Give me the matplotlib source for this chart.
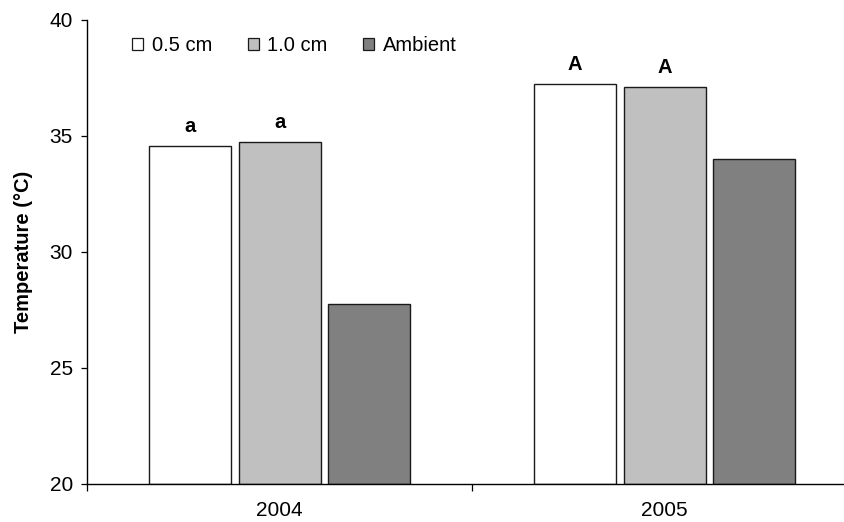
import matplotlib
matplotlib.use("Agg")
import matplotlib.pyplot as plt
from matplotlib.patches import Patch
import numpy as np

plt.rcParams["font.family"] = ["Liberation Sans", "DejaVu Sans"]

# ── Data ─────────────────────────────────────────────────────────────────────
years = ["2004", "2005"]
series = ["0.5 cm", "1.0 cm", "Ambient"]
temp_05 = [34.58, 37.24]
temp_10 = [34.75, 37.11]
temp_amb = [27.75, 34.0]
letters_05 = ["a", "A"]
letters_10 = ["a", "A"]

colors = ["#ffffff", "#c0c0c0", "#808080"]
edge = "#1a1a1a"

fig = plt.figure(figsize=(8.45, 5.22), dpi=100)
ax = fig.add_axes([0.1033, 0.0728, 0.911, 0.889])

centers = np.arange(len(years)) + 0.5
offset = 0.233
width = 0.213

values = [temp_05, temp_10, temp_amb]
for k, (vals, col) in enumerate(zip(values, colors)):
    ax.bar(centers + (k - 1) * offset, np.array(vals) - 20, bottom=20,
           width=width, color=col, edgecolor=edge, linewidth=1.0, zorder=2)

# significance letters above the buried-logger bars
for k, (vals, labs) in enumerate([(temp_05, letters_05), (temp_10, letters_10)]):
    for c, v, lab in zip(centers, vals, labs):
        ax.text(c + (k - 1) * offset, v + 0.6, lab, ha="center", va="baseline",
                fontsize=14.5, fontweight="bold")

ax.set_ylim(20, 40)
ax.set_xlim(0, 2)
ax.set_yticks([20, 25, 30, 35, 40])
ax.tick_params(axis="y", labelsize=15, length=4.3, width=0.9, pad=6,
               direction="out")

# category boundaries carry the tick marks, names sit between them
ax.set_xticks([0, 1, 2])
ax.set_xticklabels([])
ax.set_xticks(centers, minor=True)
ax.set_xticklabels(years, minor=True)
ax.tick_params(axis="x", which="major", length=5, width=0.9, direction="out")
ax.tick_params(axis="x", which="minor", length=0, labelsize=15, pad=12.5)

for s in ["top", "right"]:
    ax.spines[s].set_visible(False)
for s in ["left", "bottom"]:
    ax.spines[s].set_linewidth(1.0)

ax.set_ylabel("Temperature (°C)", fontsize=14.5, fontweight="bold",
              labelpad=12)

handles = [Patch(facecolor=c, edgecolor=edge, linewidth=0.9) for c in colors]
ax.legend(handles, series, ncol=3, frameon=False, loc="upper left",
          bbox_to_anchor=(0.04, 0.995), fontsize=14.5,
          handlelength=0.55, handleheight=0.5, handletextpad=0.43,
          columnspacing=1.75, borderaxespad=0.3)

fig.savefig("out.png", dpi=100)
